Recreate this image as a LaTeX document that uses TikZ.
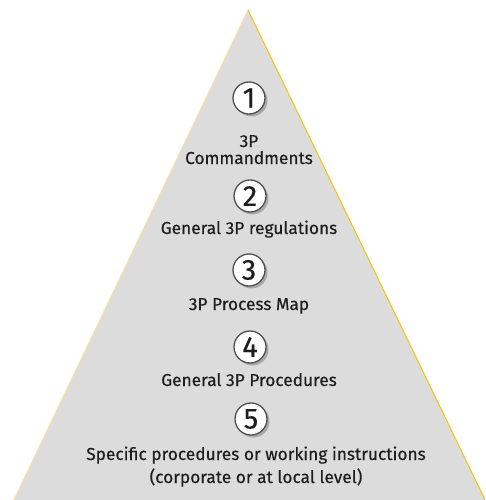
\documentclass[tikz,border=0pt]{standalone}
\usepackage{fontspec}
\setmainfont{Fira Sans}
\newfontfamily\medfont{Fira Sans}[FakeBold=0.35]
\usetikzlibrary{shadows}
\definecolor{pyrfill}{HTML}{DCDCDC}
\definecolor{edgeR}{HTML}{F2C40C}
\definecolor{edgeL}{HTML}{F7E49A}
\definecolor{txt}{HTML}{1E1E1E}
\definecolor{ring}{HTML}{505050}
\tikzset{
  numc/.style={circle, draw=ring, line width=1.3pt, fill=white, minimum size=32pt, inner sep=0pt,
    font=\medfont\fontsize{29}{29}\selectfont, text=txt,
    drop shadow={shadow xshift=2.5pt, shadow yshift=-2.5pt, opacity=0.35, fill=black!70}},
  lbl/.style={font=\medfont\fontsize{17.3}{20}\selectfont, text=txt, align=center, inner sep=0pt, anchor=base}
}
\begin{document}
\begin{tikzpicture}[x=1pt,y=-1pt]
\useasboundingbox (0,0) rectangle (485,500);
\begin{scope}
\clip (0,0) rectangle (485,500);
\coordinate (apex) at (248,10);
\coordinate (bl) at (9,510);
\coordinate (br) at (490,510);
\fill[pyrfill] (apex) -- (bl) -- (br) -- cycle;
\draw[edgeL, line width=0.9pt] (apex) -- (bl);
\draw[edgeR, line width=1pt] (apex) -- (br);
\end{scope}
\node[numc] (c1) at (249,98) {1};
\node[lbl] (t1a) at (249,147) {3P};
\node[lbl] (t1b) at (249,164) {Commandments};
\node[numc] (c2) at (250,196) {2};
\node[lbl] (t2) at (249,234) {General 3P regulations};
\node[numc] (c3) at (249,270) {3};
\node[lbl] (t3) at (249,310) {3P Process Map};
\node[numc] (c4) at (250,347) {4};
\node[lbl] (t4) at (249,386) {General 3P Procedures};
\node[numc] (c5) at (251,419) {5};
\node[lbl] (t5a) at (256,460) {Specific procedures or working instructions};
\node[lbl] (t5b) at (256,483) {(corporate or at local level)};
\end{tikzpicture}
\end{document}
